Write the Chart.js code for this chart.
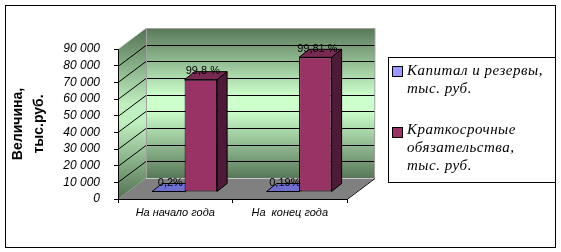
<!DOCTYPE html>
<html>
<head>
<meta charset="utf-8">
<script src="https://cdn.jsdelivr.net/npm/chart.js@4.4.1/dist/chart.umd.min.js"></script>
<style>
  html, body { margin: 0; padding: 0; background: #fff; }
  #wrap { width: 561px; height: 252px; }
</style>
</head>
<body>
<div id="wrap"><canvas id="c" width="561" height="252"></canvas></div>
<script>
// ---- data ----
const categories = ['На начало года', 'На  конец года'];
const capitalReserves = [135, 154];
const shortTermLiabilities = [67400, 80800];
const capitalPctLabels = ['0,2%', '0,19%'];
const shortTermPctLabels = ['99,8 %', '99,81 %'];
const seriesNames = [
  ['Капитал и резервы,', 'тыс. руб.'],
  ['Краткосрочные', 'обязательства,', 'тыс. руб.']
];
const yAxisTitle = ['Величина,', 'тыс.руб.'];
const yMin = 0, yMax = 90000, yStep = 10000;

// ---- styling ----
const DEPTH_X = 28, DEPTH_Y = -21;     // oblique depth of the plot box
const BAR_FRAC = 1 / 3;                // bars stand one third into the box
const BAR_DX = 10, BAR_DY = -8;        // bar depth
const frontColors = ['#9999ff', '#993366'];
const topColors = ['#6f6fd0', '#7a2952'];
const sideColors = ['#4d4d99', '#4d1a38'];
const pctLabels = [capitalPctLabels, shortTermPctLabels];
const SERIF = 'italic 15px "Liberation Serif", "DejaVu Serif", serif';

function fmtThousands(v) {
  return String(v).replace(/\B(?=(\d{3})+(?!\d))/g, ' ');
}

function wallGradient(ctx, y0, y1, dark, light) {
  const g = ctx.createLinearGradient(0, y0, 0, y1);
  g.addColorStop(0, dark);
  g.addColorStop(0.45, light);
  g.addColorStop(0.55, light);
  g.addColorStop(1, dark);
  return g;
}

const box3d = {
  id: 'box3d',
  beforeDraw(chart) {
    const ctx = chart.ctx;
    const { left, right, top, bottom } = chart.chartArea;
    const ys = chart.scales.y;
    ctx.save();
    ctx.fillStyle = '#fff';
    ctx.fillRect(0, 0, chart.width, chart.height);

    // floor
    ctx.fillStyle = '#808080';
    ctx.beginPath();
    ctx.moveTo(left, bottom);
    ctx.lineTo(right, bottom);
    ctx.lineTo(right + DEPTH_X, bottom + DEPTH_Y);
    ctx.lineTo(left + DEPTH_X, bottom + DEPTH_Y);
    ctx.closePath();
    ctx.fill();

    // back wall
    ctx.fillStyle = wallGradient(ctx, top + DEPTH_Y, bottom + DEPTH_Y, '#587858', '#ccffcc');
    ctx.fillRect(left + DEPTH_X, top + DEPTH_Y, right - left, bottom - top);

    // left wall
    ctx.fillStyle = wallGradient(ctx, top + DEPTH_Y, bottom, '#527252', '#c0f0c0');
    ctx.beginPath();
    ctx.moveTo(left, top);
    ctx.lineTo(left + DEPTH_X, top + DEPTH_Y);
    ctx.lineTo(left + DEPTH_X, bottom + DEPTH_Y);
    ctx.lineTo(left, bottom);
    ctx.closePath();
    ctx.fill();

    // grid lines
    ctx.strokeStyle = '#000';
    ctx.lineWidth = 1;
    ys.ticks.forEach(t => {
      if (t.value <= yMin || t.value >= yMax) return;
      const yy = Math.round(ys.getPixelForValue(t.value)) + 0.5;
      ctx.beginPath();
      ctx.moveTo(left + DEPTH_X, yy + DEPTH_Y);
      ctx.lineTo(right + DEPTH_X, yy + DEPTH_Y);
      ctx.moveTo(left, yy);
      ctx.lineTo(left + DEPTH_X, yy + DEPTH_Y);
      ctx.stroke();
    });

    // wall edges
    ctx.strokeStyle = '#a0a0a0';
    ctx.beginPath();
    ctx.moveTo(left + DEPTH_X + 0.5, top + DEPTH_Y);
    ctx.lineTo(left + DEPTH_X + 0.5, bottom + DEPTH_Y);
    ctx.moveTo(left + DEPTH_X, top + DEPTH_Y + 0.5);
    ctx.lineTo(right + DEPTH_X, top + DEPTH_Y + 0.5);
    ctx.lineTo(right + DEPTH_X - 0.5, bottom + DEPTH_Y);
    ctx.stroke();
    ctx.strokeStyle = '#c8c8c8';
    ctx.beginPath();
    ctx.moveTo(left + DEPTH_X, bottom + DEPTH_Y + 0.5);
    ctx.lineTo(right + DEPTH_X, bottom + DEPTH_Y + 0.5);
    ctx.stroke();
    ctx.strokeStyle = '#e8e8e8';
    ctx.beginPath();
    ctx.moveTo(left, top);
    ctx.lineTo(left + DEPTH_X, top + DEPTH_Y);
    ctx.stroke();
    // floor right edge
    ctx.strokeStyle = '#000';
    ctx.beginPath();
    ctx.moveTo(right, bottom + 0.5);
    ctx.lineTo(right + DEPTH_X, bottom + DEPTH_Y + 0.5);
    ctx.stroke();
    ctx.restore();
  },
  beforeDatasetsDraw(chart) {
    const ctx = chart.ctx;
    const sx = DEPTH_X * BAR_FRAC, sy = DEPTH_Y * BAR_FRAC;
    ctx.save();
    ctx.lineWidth = 1;
    ctx.strokeStyle = '#000';
    chart.data.datasets.forEach((ds, di) => {
      const meta = chart.getDatasetMeta(di);
      meta.data.forEach(bar => {
        const p = bar.getProps(['x', 'y', 'base', 'width'], true);
        const L = p.x - p.width / 2 + sx, R = p.x + p.width / 2 + sx;
        const T = Math.min(p.y, p.base) + sy, B = Math.max(p.y, p.base) + sy;
        ctx.fillStyle = topColors[di];
        ctx.beginPath();
        ctx.moveTo(L, T);
        ctx.lineTo(L + BAR_DX, T + BAR_DY);
        ctx.lineTo(R + BAR_DX, T + BAR_DY);
        ctx.lineTo(R, T);
        ctx.closePath();
        ctx.fill(); ctx.stroke();
        ctx.fillStyle = sideColors[di];
        ctx.beginPath();
        ctx.moveTo(R, T);
        ctx.lineTo(R + BAR_DX, T + BAR_DY);
        ctx.lineTo(R + BAR_DX, B + BAR_DY);
        ctx.lineTo(R, B);
        ctx.closePath();
        ctx.fill(); ctx.stroke();
      });
    });
    ctx.restore();
    ctx.save();
    ctx.translate(sx, sy);
  },
  afterDatasetsDraw(chart) {
    const ctx = chart.ctx;
    ctx.restore();
    const sx = DEPTH_X * BAR_FRAC, sy = DEPTH_Y * BAR_FRAC;
    ctx.save();
    ctx.fillStyle = '#000';
    ctx.font = '11px "Liberation Sans", Arial, sans-serif';
    ctx.textAlign = 'center';
    ctx.textBaseline = 'middle';
    chart.data.datasets.forEach((ds, di) => {
      const meta = chart.getDatasetMeta(di);
      meta.data.forEach((bar, i) => {
        const p = bar.getProps(['x', 'y', 'base'], true);
        const T = Math.min(p.y, p.base) + sy;
        ctx.fillText(pctLabels[di][i], p.x + sx + 2, T + BAR_DY - 0.5);
      });
    });
    ctx.restore();
  },
  afterDraw(chart) {
    const ctx = chart.ctx;
    ctx.save();
    ctx.strokeStyle = '#000';
    ctx.lineWidth = 1;
    ctx.strokeRect(5.5, 5.5, 550, 242);
    ctx.strokeRect(388.5, 57.5, 167, 125);
    const entries = [
      { sq: 66, lines: [75, 93] },
      { sq: 127, lines: [134, 152, 170] }
    ];
    ctx.font = SERIF;
    ctx.textAlign = 'left';
    ctx.textBaseline = 'alphabetic';
    try { ctx.letterSpacing = '0.5px'; } catch (e) {}
    seriesNames.forEach((lines, di) => {
      const e = entries[di];
      ctx.fillStyle = frontColors[di];
      ctx.fillRect(392.5, e.sq + 0.5, 10, 10);
      ctx.strokeRect(392.5, e.sq + 0.5, 10, 10);
      ctx.fillStyle = '#000';
      lines.forEach((ln, k) => ctx.fillText(ln, 407, e.lines[k]));
    });
    ctx.restore();
  }
};

const italicSans = { family: '"Liberation Sans", Arial, sans-serif', style: 'italic', size: 11 };

new Chart(document.getElementById('c'), {
  type: 'bar',
  data: {
    labels: categories,
    datasets: [
      { label: seriesNames[0].join(' '), data: capitalReserves,
        backgroundColor: frontColors[0], borderColor: '#000', borderWidth: 1, borderSkipped: false,
        categoryPercentage: 0.568, barPercentage: 1, clip: false },
      { label: seriesNames[1].join(' '), data: shortTermLiabilities,
        backgroundColor: frontColors[1], borderColor: '#000', borderWidth: 1, borderSkipped: false,
        categoryPercentage: 0.568, barPercentage: 1, clip: false }
    ]
  },
  options: {
    responsive: false,
    animation: false,
    devicePixelRatio: 1,
    layout: { padding: { top: 49, right: 214, left: 0, bottom: 0 } },
    plugins: { legend: { display: false }, tooltip: { enabled: false } },
    scales: {
      x: {
        grid: { offset: true, drawOnChartArea: false, tickLength: 4, color: '#000' },
        border: { color: '#000' },
        ticks: { font: italicSans, color: '#000', padding: 3, maxRotation: 0, autoSkip: false },
        afterFit: s => { s.height = 53; }
      },
      y: {
        min: yMin, max: yMax,
        ticks: { stepSize: yStep, autoSkip: false, callback: v => fmtThousands(v), font: { ...italicSans, size: 12 }, color: '#000', padding: 14 },
        grid: { drawOnChartArea: false, tickLength: 4, color: '#000' },
        border: { color: '#000' },
        title: { display: true, text: yAxisTitle, color: '#000',
          font: { family: '"Liberation Sans", Arial, sans-serif', weight: 'bold', size: 14, lineHeight: 1.5 },
          padding: { top: 7.5, bottom: 0 } },
        afterFit: s => { s.width = 118; }
      }
    }
  },
  plugins: [box3d]
});
</script>
</body>
</html>
